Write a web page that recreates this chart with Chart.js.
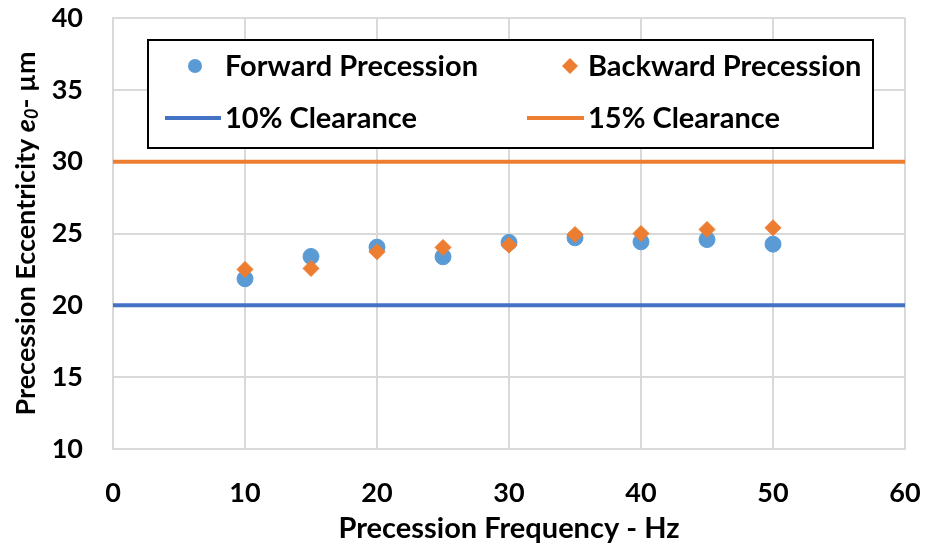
<!DOCTYPE html>
<html>
<head>
<meta charset="utf-8">
<script src="https://cdn.jsdelivr.net/npm/chart.js@4.4.0/dist/chart.umd.min.js"></script>
<style>
  html, body { margin: 0; padding: 0; background: #fff; }
  #chart { display: block; }
</style>
</head>
<body>
<canvas id="chart" width="925" height="550"></canvas>
<script>
// Data
const frequencies = [10, 15, 20, 25, 30, 35, 40, 45, 50];
const forwardPrecession = [21.85, 23.4, 24.05, 23.38, 24.38, 24.7, 24.42, 24.58, 24.26];
const backwardPrecession = [22.5, 22.57, 23.73, 24.03, 24.19, 24.93, 25.0, 25.28, 25.4];
const clearanceX = [0, 60];
const clearance10 = [20, 20];
const clearance15 = [30, 30];
const xTicks = [0, 10, 20, 30, 40, 50, 60];
const yTicks = [10, 15, 20, 25, 30, 35, 40];

const FONT = 'Lato, "Open Sans", sans-serif';
const blue = '#5B9BD5';
const orange = '#ED7D31';
const lineBlue = '#4472C4';

const toPoints = (xs, ys) => xs.map((x, i) => ({ x: x, y: ys[i] }));

// Legend box and axis titles drawn by hand
const decorations = {
    id: 'decorations',
    afterDraw(chart) {
        const ctx = chart.ctx;
        const area = chart.chartArea;
        ctx.save();

        // legend box
        ctx.fillStyle = '#fff';
        ctx.fillRect(148, 40, 725, 108);
        ctx.strokeStyle = '#000';
        ctx.lineWidth = 2;
        ctx.strokeRect(148, 40, 725, 108);

        ctx.font = 'bold 29px ' + FONT;
        ctx.textBaseline = 'middle';
        ctx.textAlign = 'left';

        // row 1
        ctx.fillStyle = blue;
        ctx.beginPath();
        ctx.arc(195, 66, 7, 0, Math.PI * 2);
        ctx.fill();
        ctx.fillStyle = orange;
        ctx.beginPath();
        ctx.moveTo(570, 58); ctx.lineTo(578, 66); ctx.lineTo(570, 74); ctx.lineTo(562, 66);
        ctx.closePath();
        ctx.fill();
        ctx.fillStyle = '#000';
        ctx.fillText(chart.data.datasets[0].label, 225, 67);
        ctx.fillText(chart.data.datasets[1].label, 588, 67);

        // row 2
        ctx.lineWidth = 4;
        ctx.strokeStyle = lineBlue;
        ctx.beginPath(); ctx.moveTo(165, 118); ctx.lineTo(221, 118); ctx.stroke();
        ctx.strokeStyle = orange;
        ctx.beginPath(); ctx.moveTo(527, 118); ctx.lineTo(584, 118); ctx.stroke();
        ctx.fillText(chart.data.datasets[2].label, 225, 119);
        ctx.fillText(chart.data.datasets[3].label, 588, 119);

        // x title
        ctx.textAlign = 'center';
        ctx.font = 'bold 29px ' + FONT;
        ctx.fillText('Precession Frequency - Hz', (area.left + area.right) / 2, 529);

        // y title with italic e0
        const parts = [
            { t: 'Precession Eccentricity ', f: 'bold 27px ' + FONT, dy: 0 },
            { t: 'e', f: 'italic bold 27px ' + FONT, dy: 0 },
            { t: '0', f: 'italic bold 18px ' + FONT, dy: 6 },
            { t: '- µm', f: 'bold 27px ' + FONT, dy: 0 }
        ];
        let total = 0;
        parts.forEach(p => { ctx.font = p.f; p.w = ctx.measureText(p.t).width; total += p.w; });
        ctx.translate(26, (area.top + area.bottom) / 2);
        ctx.rotate(-Math.PI / 2);
        ctx.textAlign = 'left';
        let x = -total / 2;
        parts.forEach(p => {
            ctx.font = p.f;
            ctx.fillText(p.t, x, p.dy);
            x += p.w;
        });
        ctx.restore();
    }
};

new Chart(document.getElementById('chart'), {
    type: 'scatter',
    data: {
        datasets: [
            {
                label: 'Forward Precession',
                data: toPoints(frequencies, forwardPrecession),
                backgroundColor: blue,
                borderColor: blue,
                pointStyle: 'circle',
                pointRadius: 8,
                order: 2
            },
            {
                label: 'Backward Precession',
                data: toPoints(frequencies, backwardPrecession),
                backgroundColor: orange,
                borderColor: orange,
                pointStyle: 'rectRot',
                pointRadius: 8,
                order: 1
            },
            {
                label: '10% Clearance',
                data: toPoints(clearanceX, clearance10),
                showLine: true,
                borderColor: lineBlue,
                borderWidth: 4,
                pointRadius: 0,
                order: 3
            },
            {
                label: '15% Clearance',
                data: toPoints(clearanceX, clearance15),
                showLine: true,
                borderColor: orange,
                borderWidth: 4,
                pointRadius: 0,
                order: 3
            }
        ]
    },
    options: {
        responsive: false,
        animation: false,
        layout: { padding: { top: 18, right: 20, left: 0, bottom: 0 } },
        plugins: {
            legend: { display: false },
            tooltip: { enabled: false }
        },
        scales: {
            x: {
                type: 'linear',
                min: 0,
                max: 60,
                afterBuildTicks: s => { s.ticks = xTicks.map(v => ({ value: v })); },
                afterFit: s => { s.height = 101; s.paddingLeft = 0; s.paddingRight = 0; },
                grid: { color: '#d9d9d9', lineWidth: 2, drawTicks: false },
                border: { color: '#d9d9d9', width: 2 },
                ticks: {
                    padding: 28,
                    color: '#000',
                    font: { family: FONT, size: 27, weight: 'bold' }
                }
            },
            y: {
                type: 'linear',
                min: 10,
                max: 40,
                afterBuildTicks: s => { s.ticks = yTicks.map(v => ({ value: v })); },
                afterFit: s => { s.width = 113; s.paddingTop = 0; s.paddingBottom = 0; },
                grid: { color: '#d9d9d9', lineWidth: 2, drawTicks: false },
                border: { color: '#d9d9d9', width: 2 },
                ticks: {
                    padding: 30,
                    color: '#000',
                    font: { family: FONT, size: 27, weight: 'bold' }
                }
            }
        }
    },
    plugins: [decorations]
});
</script>
</body>
</html>
